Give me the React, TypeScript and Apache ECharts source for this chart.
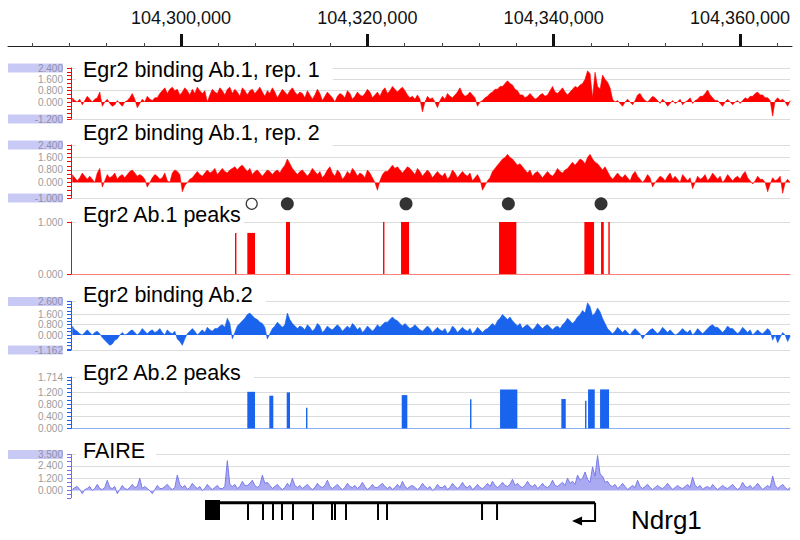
import React, { useEffect, useRef } from 'react';
import * as echarts from 'echarts';

const FONT = '"Liberation Sans", Arial, Helvetica, sans-serif';
const RED = '#ff0000';
const BLUE = '#1a63ec';
const PURPLE = '#7272ea';

// genomic ranges
const AXIS_MIN = 104281428; // left end of coordinate ruler
const AXIS_MAX = 104365582; // right end of coordinate ruler
const X_MIN = 104288192; // left edge of data tracks
const X_MAX = 104365368; // right edge of data tracks

const majorTicks = [104300000, 104320000, 104340000, 104360000];
const minorTicks = [
  104284000, 104288000, 104292000, 104296000, 104304000, 104308000, 104312000, 104316000,
  104324000, 104328000, 104332000, 104336000, 104344000, 104348000, 104352000, 104356000, 104364000,
];

// wiggle bins
const BIN_START = 104288192;
const BIN_SIZE = 268.5;

const rep1 = [
  0.3, 0.1, 0.0, 0.2, -0.2, 0.1, 0.4, 0.2, 0.0, 0.2, 0.3, 0.7, -0.3, 0.0, 0.2, -0.1, -0.3, -0.2, 0.1, -0.1,
  -0.3, 0.0, 0.1, 0.3, 0.6, 0.2, -0.4, -0.1, 0.2, 0.0, 0.4, 0.2, 0.1, 0.3, 0.3, 0.6, 0.8, 1.0, 0.6, 0.9,
  1.05, 0.8, 0.9, 0.5, 0.7, 1.0, 0.8, 0.5, 0.9, 0.6, 1.05, 0.8, 0.6, 0.8, 0.0, 0.5, 0.9, 0.7, 0.6, 1.0,
  0.8, 0.5, 0.9, 1.05, 0.6, 0.9, 0.7, 0.4, 1.0, 0.8, 0.5, 0.8, 0.9, 0.6, 0.8, 1.05, 0.7, 0.4, 0.8, 0.6,
  1.0, 0.7, 0.3, 0.6, 0.9, 0.7, 0.5, 0.8, 1.0, 0.7, 0.5, 0.7, 0.6, 0.3, 0.8, 0.5, 0.2, 0.5, 0.9, 0.6,
  0.1, 0.4, 0.7, 0.5, 0.3, 0.0, 0.4, 0.6, 0.5, 0.3, 0.8, 0.6, 0.2, 0.4, 0.7, 0.5, 0.4, 0.6, 0.9, 0.7,
  0.3, 0.5, 0.7, 0.4, 0.8, 1.0, 0.6, 0.8, 1.1, 0.9, 0.7, 0.9, 1.05, 0.8, 0.5, 0.3, 0.4, 0.2, 0.5, 0.2,
  -0.7, 0.0, 0.4, 0.2, 0.3, 0.0, -0.4, 0.1, 0.4, 0.2, 0.6, 0.4, 0.3, 0.5, 0.7, 1.0, 0.6, 0.4, 0.5, 0.7,
  0.5, 0.3, -0.3, 0.0, 0.1, 0.3, 0.4, 0.6, 0.7, 0.9, 0.9, 1.1, 1.1, 1.3, 1.5, 1.3, 1.2, 0.9, 0.8, 0.5,
  0.5, 0.3, 0.4, 0.6, 0.4, 0.2, 0.3, 0.5, 0.6, 0.4, 0.5, 0.8, 1.1, 0.7, 0.6, 0.8, 1.0, 0.7, 0.5, 0.7,
  0.9, 1.1, 1.0, 1.2, 1.3, 1.6, 2.2, 2.0, 0.3, 2.1, 1.1, 0.9, 1.9, 1.6, 1.4, 1.0, 0.2, 0.0, 0.1, -0.1,
  -0.3, 0.0, 0.2, 0.0, -0.2, 0.1, 0.5, 0.6, 0.3, 0.1, 0.0, 0.2, 0.4, 0.3, 0.1, -0.1, 0.2, 0.0, -0.3, -0.1,
  0.1, -0.1, 0.0, 0.2, -0.2, 0.0, 0.1, 0.3, -0.1, 0.1, 0.2, 0.4, 0.4, 0.6, 0.85, 0.5, 0.3, 0.1, 0.1, -0.1,
  -0.3, 0.0, 0.2, 0.0, -0.2, 0.0, 0.1, -0.1, 0.1, 0.3, 0.2, 0.4, 0.4, 0.6, 0.7, 0.5, 0.5, 0.3, 0.3, 0.1,
  -1.0, 0.1, 0.3, 0.1, 0.2, 0.0, -0.3, 0.1,
];

const rep2 = [
  0.5, 0.3, 0.1, 0.3, 0.6, 0.4, 0.2, 0.4, 0.2, 0.0, 0.6, 0.9, -0.3, 0.1, 0.5, 0.3, 0.4, 0.6, 0.2, 0.4,
  0.5, 0.3, 0.5, 0.7, 0.8, 0.6, 0.4, 0.5, 0.4, 0.2, -0.3, 0.0, 0.3, 0.5, 0.4, 0.2, 0.3, 0.6, 0.1, 0.0,
  0.6, 0.8, 0.7, 0.5, -0.6, -0.2, 0.0, 0.2, 0.3, 0.5, 0.7, 0.5, 0.4, 0.6, 0.8, 0.6, 0.7, 0.9, 0.5, 0.7,
  0.9, 0.7, 0.6, 0.8, 0.9, 1.0, 0.8, 1.0, 1.1, 0.9, 0.7, 0.9, 0.5, 0.7, 0.8, 0.6, 0.4, 0.6, 0.8, 0.7,
  0.5, 0.7, 0.8, 0.6, 0.9, 1.1, 1.5, 1.2, 0.9, 0.7, 0.5, 0.7, 0.8, 0.6, 0.4, 0.6, 0.9, 0.7, 0.5, 0.7,
  0.3, 0.5, 0.8, 1.0, 0.6, 0.4, 0.8, 0.6, 0.2, 0.4, 0.7, 0.5, 0.9, 0.7, 0.4, 0.6, 0.5, 0.3, 0.8, 0.6,
  0.3, 0.0, -0.5, 0.1, 0.5, 0.7, 0.7, 0.9, 1.1, 0.9, 1.0, 0.8, 0.6, 0.8, 1.0, 0.9, 0.7, 0.5, 0.9, 0.7,
  0.4, 0.6, 0.8, 0.6, 0.3, 0.5, 0.7, 0.5, 0.4, 0.6, 0.2, 0.4, 0.8, 0.6, 0.3, 0.5, 0.7, 0.5, 0.4, 0.6,
  0.1, 0.3, 0.5, 0.2, -0.5, -0.2, 0.1, 0.3, 0.7, 0.9, 1.1, 1.3, 1.5, 1.6, 1.8, 1.6, 1.5, 1.3, 1.1, 1.2,
  1.0, 0.8, 0.6, 0.8, 0.4, 0.6, 0.7, 0.5, 0.3, 0.5, 0.7, 0.5, 0.4, 0.6, 0.9, 0.7, 0.6, 0.8, 0.9, 1.1,
  1.3, 1.1, 1.3, 1.5, 1.4, 1.2, 1.6, 1.8, 1.5, 1.3, 1.2, 1.0, 0.8, 1.0, 0.7, 0.4, 0.2, 0.4, 0.6, 0.4,
  0.3, 0.5, 0.3, 0.1, 0.5, 0.7, 0.4, 0.2, 0.0, 0.2, 0.5, 0.3, -0.3, 0.0, 0.2, 0.4, 0.3, 0.1, 0.4, 0.6,
  0.2, 0.4, 0.2, 0.0, 0.5, 0.3, 0.1, 0.3, -0.4, 0.0, 0.4, 0.2, 0.3, 0.5, 0.1, 0.3, 0.6, 0.4, 0.2, 0.4,
  0.0, 0.2, 0.5, 0.3, 0.1, 0.3, 0.4, 0.2, 0.5, 0.7, 0.3, 0.1, -0.1, 0.1, 0.4, 0.2, 0.2, 0.0, -0.6, -0.1,
  0.3, 0.1, 0.2, 0.4, -0.7, 0.0, 0.2, 0.0,
];

const ab2 = [
  0.7, 0.4, 0.3, 0.1, 0.0, 0.2, 0.4, 0.2, 0.0, 0.2, 0.3, 0.1, -0.2, -0.4, -0.6, -0.8, -0.7, -0.4, -0.3, 0.0,
  0.2, 0.0, 0.1, 0.3, 0.4, 0.2, 0.0, 0.2, 0.5, 0.3, 0.1, 0.3, 0.4, 0.2, 0.3, 0.5, 0.2, 0.0, 0.4, 0.2,
  0.1, 0.3, -0.3, -0.5, -0.8, -0.3, 0.1, 0.3, 0.5, 0.3, 0.0, 0.2, 0.4, 0.2, 0.6, 0.4, 0.3, 0.5, 0.5, 0.7,
  0.8, 0.6, 1.3, 0.9, -0.3, 0.2, 0.7, 0.9, 1.1, 1.3, 1.6, 1.7, 1.5, 1.3, 1.2, 1.0, 0.9, 0.6, -0.3, 0.1,
  0.5, 0.7, 1.0, 0.8, 0.6, 0.8, 1.7, 1.2, 0.9, 0.7, 0.5, 0.7, 0.6, 0.4, 0.8, 0.6, 0.3, 0.5, 0.9, 0.7,
  0.2, 0.4, 0.7, 0.5, 0.4, 0.6, 0.8, 0.6, 0.3, 0.5, 0.7, 0.5, 0.9, 0.7, 0.4, 0.6, 0.2, 0.4, 0.7, 0.5,
  0.3, 0.5, 0.8, 0.6, 0.8, 1.0, 1.0, 1.2, 1.4, 1.2, 1.1, 0.9, 0.7, 0.9, 0.7, 0.5, 0.6, 0.8, 0.6, 0.4,
  0.3, 0.5, 0.7, 0.5, 0.2, 0.4, 0.6, 0.4, 0.3, 0.5, 0.1, 0.3, 0.7, 0.5, 0.2, 0.4, 0.6, 0.4, 0.3, 0.5,
  0.1, 0.3, 0.6, 0.4, 0.2, 0.4, 0.5, 0.7, 0.9, 0.7, 1.1, 1.3, 1.6, 1.4, 1.2, 1.4, 1.1, 0.9, 0.7, 0.9,
  0.5, 0.7, 0.8, 0.6, 0.4, 0.6, 0.9, 0.7, 0.5, 0.7, 0.8, 0.6, 0.4, 0.6, 0.7, 0.5, 0.8, 1.0, 1.3, 1.1,
  0.9, 1.1, 1.4, 1.6, 1.9, 1.7, 2.5, 2.2, 1.5, 1.7, 2.1, 1.8, 1.3, 0.9, 0.5, 0.3, 0.1, 0.3, 0.6, 0.4,
  0.2, 0.4, 0.2, 0.0, 0.3, 0.5, 0.3, 0.1, -0.3, 0.0, 0.2, 0.4, 0.5, 0.3, 0.1, 0.3, 0.6, 0.4, 0.2, 0.4,
  0.2, 0.0, 0.1, 0.3, 0.5, 0.3, 0.2, 0.4, 0.0, 0.2, 0.5, 0.3, 0.1, 0.3, 0.5, 0.7, 0.8, 0.6, 0.6, 0.4,
  0.2, 0.4, 0.7, 0.5, 0.5, 0.3, 0.1, 0.3, 0.6, 0.4, 0.2, 0.4, 0.0, 0.2, 0.4, 0.2, 0.1, 0.3, 0.5, 0.3,
  -0.4, 0.0, -0.6, -0.2, 0.2, 0.0, -0.5, -0.1,
];

const faire = [
  0.1, 0.3, 0.4, 0.1, -0.3, 0.1, 0.2, 0.4, 0.0, 0.2, 0.6, 0.2, 0.1, 0.3, 1.0, 0.3, 0.2, 0.4, -0.3, 0.1,
  0.5, 0.2, 0.1, 0.3, 0.6, 0.3, 0.4, 1.2, 0.2, 0.4, 0.2, 0.0, -0.3, 0.1, 0.5, 0.2, 0.2, 0.4, 0.6, 0.3,
  0.1, 0.3, 1.5, 0.6, 0.3, 0.5, 0.1, 0.3, 0.7, 0.4, 0.2, 0.4, 0.0, 0.2, 0.6, 0.3, 0.1, 0.3, 0.5, 0.2,
  0.2, 0.4, 2.9, 0.6, 0.4, 0.6, 0.2, 0.4, 0.9, 0.5, 0.5, 0.7, 1.0, 0.5, 0.3, 0.5, 1.5, 0.7, 0.8, 0.5,
  0.2, 0.4, 0.6, 0.3, 0.1, 0.3, 0.7, 0.4, 1.2, 0.5, 0.3, 0.5, 0.2, 0.4, 0.6, 0.3, 0.1, 0.3, 0.7, 0.4,
  0.3, 0.5, 1.0, 0.4, 0.2, 0.4, 0.6, 0.3, 0.1, 0.3, 0.7, 0.4, 0.3, 0.5, 0.2, 0.4, 0.8, 0.4, 0.1, 0.3,
  0.6, 0.3, 0.3, 0.5, 0.7, 0.4, 0.2, 0.4, 0.1, 0.3, 0.6, 0.3, 0.9, 0.4, 0.2, 0.4, 0.5, 0.3, 0.1, 0.3,
  0.7, 0.4, 0.2, 0.4, 0.0, 0.2, 0.6, 0.3, 0.3, 0.5, 0.1, 0.3, 0.7, 0.4, 0.2, 0.4, 0.8, 0.4, 0.3, 0.5,
  0.1, 0.3, 0.6, 0.3, 0.2, 0.4, 0.7, 0.4, 0.9, 0.5, 0.3, 0.5, 0.8, 0.5, 0.4, 0.6, 1.1, 0.5, 0.7, 0.4,
  0.3, 0.5, 0.9, 0.5, 0.4, 0.6, 0.2, 0.4, 0.7, 0.4, 0.3, 0.5, 1.0, 0.5, 0.4, 0.6, 0.8, 0.5, 1.2, 0.7,
  0.9, 0.6, 1.5, 1.0, 1.2, 1.8, 1.1, 0.8, 2.3, 1.4, 3.4, 1.6, 1.4, 0.8, 0.9, 0.5, 0.4, 0.6, 0.2, 0.4,
  0.7, 0.4, 0.1, 0.3, 0.5, 0.3, 1.0, 0.4, 0.2, 0.4, 0.6, 0.3, 0.1, 0.3, 0.5, 0.3, 0.2, 0.4, 0.7, 0.4,
  0.1, 0.3, 0.5, 0.3, 0.2, 0.4, 0.6, 0.3, 1.3, 0.5, 0.3, 0.5, 0.1, 0.3, 0.4, 0.2, 0.6, 0.3, 0.1, 0.3,
  0.5, 0.3, 0.2, 0.4, 0.6, 0.3, 0.1, 0.3, 0.8, 0.4, 0.3, 0.5, 0.2, 0.4, 0.7, 0.4, 0.1, 0.3, 0.5, 0.3,
  1.4, 0.5, 0.2, 0.4, 0.6, 0.3, 0.1, 0.3,
];

// Egr2 Ab.1 peaks: start, end, height
const peaks1Start = [104305797, 104307117, 104311272, 104321685, 104323617, 104334137, 104343294, 104345087, 104345871];
const peaks1End = [104305797, 104307944, 104311701, 104321685, 104324476, 104335994, 104344336, 104345377, 104345871];
const peaks1Height = [0.79, 0.79, 1.0, 1.0, 1.0, 1.0, 1.0, 1.0, 1.0];

// Egr2 Ab.2 peaks
const peaks2Start = [104307117, 104309479, 104311347, 104313419, 104323692, 104331024, 104334245, 104340825, 104343369, 104343691, 104344980];
const peaks2End = [104307944, 104309908, 104311701, 104313419, 104324293, 104331024, 104336102, 104341297, 104343369, 104344411, 104345946];
const peaks2Height = [1.22, 1.09, 1.2, 0.69, 1.11, 0.97, 1.3, 0.98, 0.92, 1.3, 1.3];

// circles over Ab.1 peaks
const openCircles = [104307590];
const filledCircles = [104311411, 104324154, 104335136, 104345087];

// Ndrg1 gene model
const utrStart = 104302576;
const utrEnd = 104304187;
const exonLines = [
  104307192, 104308803, 104309876, 104310842, 104312023, 104314170, 104316210,
  104316532, 104317713, 104321148, 104322114, 104332312, 104333923,
];
const geneEnd = 104344443;
const arrowTip = 104341974;

const trackLabels = [
  'Egr2 binding Ab.1, rep. 1',
  'Egr2 binding Ab.1, rep. 2',
  'Egr2 Ab.1 peaks',
  'Egr2 binding Ab.2',
  'Egr2 Ab.2 peaks',
  'FAIRE',
];

const tracks = [
  {
    top: 68, height: 51, min: -1.2, max: 2.4, color: RED,
    labels: [-1.2, 0, 0.8, 1.6, 2.4], hl: [-1.2, 2.4], grid: [-1.2, 0.8, 1.6, 2.4],
    ticks: [-1.2, -1.067, -0.8, -0.533, -0.267, 0, 0.267, 0.533, 0.8, 1.067, 1.333, 1.6, 1.867, 2.133, 2.4],
  },
  {
    top: 145, height: 53, min: -1.0, max: 2.4, color: RED,
    labels: [-1.0, 0, 0.8, 1.6, 2.4], hl: [-1.0, 2.4], grid: [-1.0, 0.8, 1.6, 2.4],
    ticks: [-1.0, -0.8, -0.533, -0.267, 0, 0.267, 0.533, 0.8, 1.067, 1.333, 1.6, 1.867, 2.133, 2.4],
  },
  {
    top: 222, height: 52, min: 0, max: 1.0, color: RED,
    labels: [0, 1.0], hl: [], grid: [1.0], ticks: [0, 1.0],
  },
  {
    top: 301.5, height: 48.5, min: -1.162, max: 2.6, color: BLUE,
    labels: [-1.162, 0, 0.8, 1.6, 2.6], hl: [-1.162, 2.6], grid: [-1.162, 0.8, 1.6, 2.6],
    ticks: [-1.162, -1.067, -0.8, -0.533, -0.267, 0, 0.267, 0.533, 0.8, 1.067, 1.333, 1.6, 1.867, 2.133, 2.4, 2.6],
  },
  {
    top: 377, height: 51.4, min: 0, max: 1.714, color: BLUE,
    labels: [0, 0.4, 0.8, 1.2, 1.714], hl: [], grid: [0.4, 0.8, 1.2, 1.714],
    ticks: [0, 0.133, 0.267, 0.4, 0.533, 0.667, 0.8, 0.933, 1.067, 1.2, 1.333, 1.467, 1.6, 1.714],
  },
  {
    top: 454.5, height: 43.3, min: -0.7, max: 3.5, color: PURPLE,
    labels: [0, 1.2, 2.4, 3.5], hl: [3.5], grid: [1.2, 2.4, 3.5],
    ticks: [-0.7, -0.4, 0, 0.4, 0.8, 1.2, 1.6, 2.0, 2.4, 2.8, 3.2, 3.5],
  },
];

const labelLayout = [
  { top: 57, padR: 12 },
  { top: 120, padR: 12 },
  { top: 202, padR: 2 },
  { top: 282, padR: 12 },
  { top: 360, padR: 12 },
  { top: 438, padR: 11 },
];

const near = (a: number, list: number[]) => list.some((b) => Math.abs(a - b) < 1e-6);

function buildOption() {
  const grids: any[] = [{ left: 8, right: 8, top: 46, height: 1 }];
  const xAxes: any[] = [
    {
      type: 'value', gridIndex: 0, position: 'top', min: AXIS_MIN, max: AXIS_MAX,
      axisLine: { show: true, onZero: false, lineStyle: { color: '#222', width: 1 } },
      axisTick: { show: true, customValues: majorTicks, length: 12, lineStyle: { color: '#111', width: 3 } },
      axisLabel: {
        show: true, customValues: majorTicks, margin: 19, fontSize: 18, color: '#111', fontFamily: FONT,
        formatter: (v: number) => Number(v).toLocaleString('en-US'),
      },
      splitLine: { show: false },
    },
    {
      type: 'value', gridIndex: 0, position: 'top', min: AXIS_MIN, max: AXIS_MAX,
      axisLine: { show: false },
      axisTick: { show: true, customValues: minorTicks, length: 4, lineStyle: { color: '#444', width: 1 } },
      axisLabel: { show: false },
      splitLine: { show: false },
    },
  ];
  const yAxes: any[] = [{ type: 'value', gridIndex: 0, show: false }];
  const series: any[] = [];
  const titles: any[] = [];

  tracks.forEach((t, k) => {
    const gi = k + 1;
    grids.push({ left: 71, right: 10, top: t.top, height: t.height });
    const isPeak = k === 2 || k === 4;
    xAxes.push({
      type: 'value', gridIndex: gi, min: X_MIN, max: X_MAX,
      axisLine: { show: isPeak, onZero: false, lineStyle: { color: t.color, opacity: 0.5, width: 1.2 } },
      axisTick: { show: false }, axisLabel: { show: false }, splitLine: { show: false },
    });
    yAxes.push({
      type: 'value', gridIndex: gi, min: t.min, max: t.max, position: 'left',
      axisLine: { show: true, lineStyle: { color: t.color, width: 1 } },
      axisTick: { show: true, customValues: t.ticks, length: 4, lineStyle: { color: t.color, width: 1 } },
      axisLabel: {
        show: true, customValues: t.labels, margin: 8, fontSize: 10, fontFamily: FONT, color: '#9b9b9b',
        formatter: (v: number) => {
          const s = Number(v).toFixed(3);
          return near(Number(v), t.hl) ? `{hl|${s}}` : `{n|${s}}`;
        },
        rich: {
          hl: {
            backgroundColor: '#c9c9f5', width: 55, align: 'right', color: '#8f8fa8',
            fontSize: 10, fontFamily: FONT, lineHeight: 9, height: 9,
          },
          n: { color: '#9b9b9b', fontSize: 10, fontFamily: FONT },
        },
      },
      splitLine: { show: false },
    });
    yAxes.push({
      type: 'value', gridIndex: gi, min: t.min, max: t.max, position: 'left',
      axisLine: { show: false },
      axisTick: { show: false, customValues: t.grid },
      axisLabel: { show: false },
      splitLine: { show: true, lineStyle: { color: '#dcdcdc', width: 1 } },
    });
    const xi = gi + 1;
    const yi = 1 + 2 * k;
    titles.push({
      text: trackLabels[k], left: 76, top: labelLayout[k].top,
      backgroundColor: '#ffffff', padding: [1, labelLayout[k].padR, 1, 7],
      textStyle: { fontSize: 21.5, fontWeight: 'normal', fontFamily: FONT, color: '#000', lineHeight: 24 },
    });
    const wig = k === 0 ? rep1 : k === 1 ? rep2 : k === 3 ? ab2 : k === 5 ? faire : null;
    if (wig) {
      series.push({
        type: 'line', xAxisIndex: xi, yAxisIndex: yi, symbol: 'none', silent: true,
        data: wig.map((v, i) => [BIN_START + (i + 0.5) * BIN_SIZE, v]),
        lineStyle: { color: t.color, width: k === 5 ? 0.9 : 0.6 },
        areaStyle: { color: t.color, opacity: k === 5 ? 0.6 : 1, origin: 0 },
        z: 3,
      });
    } else {
      const ps = k === 2 ? peaks1Start : peaks2Start;
      const pe = k === 2 ? peaks1End : peaks2End;
      const ph = k === 2 ? peaks1Height : peaks2Height;
      const col = t.color;
      series.push({
        type: 'custom', xAxisIndex: xi, yAxisIndex: yi, silent: true,
        data: ps.map((s, i) => [s, pe[i], ph[i]]),
        encode: { x: [0, 1], y: 2 },
        renderItem: (params: any, api: any) => {
          const p0 = api.coord([api.value(0), api.value(2)]);
          const p1 = api.coord([api.value(1), 0]);
          const w = Math.max(p1[0] - p0[0], 1.4);
          return { type: 'rect', shape: { x: p0[0], y: p0[1], width: w, height: p1[1] - p0[1] }, style: { fill: col } };
        },
        z: 3,
      });
      if (k === 2) {
        series.push({
          type: 'scatter', xAxisIndex: xi, yAxisIndex: yi, clip: false, silent: true,
          symbol: 'circle', symbolSize: 13,
          data: filledCircles.map((p) => [p, 1.35]),
          itemStyle: { color: '#000' }, z: 5,
        });
        series.push({
          type: 'scatter', xAxisIndex: xi, yAxisIndex: yi, clip: false, silent: true,
          symbol: 'circle', symbolSize: 11,
          data: openCircles.map((p) => [p, 1.35]),
          itemStyle: { color: '#fff', borderColor: '#000', borderWidth: 1.2 }, z: 7,
        });
      }
    }
  });

  // gene model grid
  grids.push({ left: 71, right: 10, top: 500, height: 22 });
  xAxes.push({ type: 'value', gridIndex: 7, min: X_MIN, max: X_MAX, show: false });
  yAxes.push({ type: 'value', gridIndex: 7, min: 0, max: 1, show: false });
  const gx = xAxes.length - 1;
  const gy = yAxes.length - 1;
  series.push({
    type: 'line', xAxisIndex: gx, yAxisIndex: gy, symbol: 'none', silent: true,
    data: [[utrStart, 0.88], [geneEnd, 0.88]],
    lineStyle: { color: '#000', width: 3 }, z: 3,
  });
  series.push({
    type: 'custom', xAxisIndex: gx, yAxisIndex: gy, silent: true,
    data: [[utrStart, utrEnd]],
    renderItem: (params: any, api: any) => {
      const a = api.coord([api.value(0), 1]);
      const b = api.coord([api.value(1), 0.09]);
      return { type: 'rect', shape: { x: a[0], y: a[1], width: b[0] - a[0], height: b[1] - a[1] }, style: { fill: '#000' } };
    },
    z: 4,
  });
  series.push({
    type: 'custom', xAxisIndex: gx, yAxisIndex: gy, silent: true,
    data: exonLines.map((p) => [p]),
    renderItem: (params: any, api: any) => {
      const a = api.coord([api.value(0), 0.88]);
      const b = api.coord([api.value(0), 0.09]);
      return { type: 'line', shape: { x1: a[0], y1: a[1], x2: b[0], y2: b[1] }, style: { stroke: '#000', lineWidth: 2 } };
    },
    z: 4,
  });
  series.push({
    type: 'custom', xAxisIndex: gx, yAxisIndex: gy, silent: true,
    data: [[geneEnd, arrowTip]],
    renderItem: (params: any, api: any) => {
      const a = api.coord([api.value(0), 0.88]);
      const b = api.coord([api.value(0), 0.04]);
      const c = api.coord([api.value(1), 0.04]);
      return {
        type: 'group',
        children: [
          { type: 'polyline', shape: { points: [a, b, [c[0] + 8, c[1]]] }, style: { stroke: '#000', lineWidth: 2, fill: null } },
          { type: 'polygon', shape: { points: [[c[0], c[1]], [c[0] + 10, c[1] - 4.5], [c[0] + 10, c[1] + 4.5]] }, style: { fill: '#000' } },
        ],
      };
    },
    z: 4,
  });
  titles.push({
    text: 'Ndrg1', left: 626, top: 500,
    textStyle: { fontSize: 26, fontWeight: 'normal', fontFamily: FONT, color: '#000', lineHeight: 30 },
  });

  return {
    animation: false,
    backgroundColor: '#ffffff',
    title: titles,
    grid: grids,
    xAxis: xAxes,
    yAxis: yAxes,
    series,
  };
}

export default function App() {
  const ref = useRef<HTMLDivElement>(null);
  useEffect(() => {
    if (!ref.current) return;
    const chart = echarts.init(ref.current, null, { renderer: 'svg' });
    chart.setOption(buildOption());
    return () => chart.dispose();
  }, []);
  return (
    <div
      ref={ref}
      style={{ position: 'fixed', left: 0, top: 0, width: 800, height: 540, background: '#fff' }}
    />
  );
}
